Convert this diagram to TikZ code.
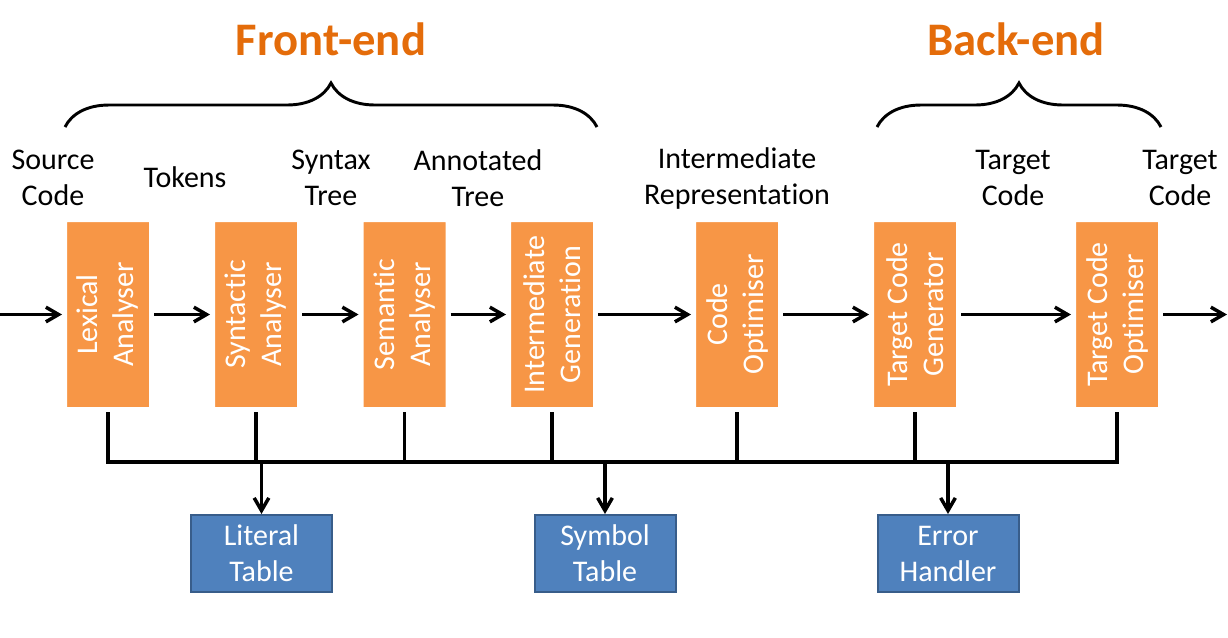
\documentclass[tikz,border=0pt]{standalone}
\usepackage{fontspec}
\setmainfont{Carlito}[Ligatures=NoCommon]
\usetikzlibrary{arrows.meta,shadows,decorations.pathreplacing}
\definecolor{phaseorange}{HTML}{F79646}
\definecolor{titleorange}{HTML}{E46C0A}
\definecolor{storeblue}{HTML}{4F81BD}
\definecolor{storeedge}{HTML}{385D8A}
\tikzset{
    phase/.style={rotate=90, fill=phaseorange, draw=white, line width=3.75pt,
        rounded corners=1.5pt, minimum width=142.5pt, minimum height=65.25pt,
        inner sep=0pt, align=center, text=white,
        font=\fontsize{22.5}{27}\selectfont,
        drop shadow={shadow xshift=0.8pt, shadow yshift=-0.8pt, opacity=0.3, fill=black}},
    store/.style={fill=storeblue, draw=storeedge, line width=1.5pt,
        minimum width=105.75pt, minimum height=57.75pt, inner sep=0pt,
        align=center, text=white, font=\fontsize{22.5}{27}\selectfont},
    lbl/.style={align=center, inner sep=0pt, font=\fontsize{22.5}{27}\selectfont},
    stage/.style={text=titleorange, inner sep=0pt, font=\fontsize{35}{40}\selectfont\bfseries},
    arr/.style={line width=2.6pt, -{Straight Barb[length=9.5pt, width=11pt]}},
    bus/.style={line width=2.6pt},
    curly/.style={line width=2.2pt, decorate, decoration={brace, amplitude=33pt}}
}
\begin{document}
\begin{tikzpicture}[x=0.75pt, y=-0.75pt]
    \useasboundingbox (0,0) rectangle (1228,637);

    % Titles and braces
    \node[stage, anchor=base] (front) at (331, 55) {Front-end};
    \node[stage, anchor=base] (back) at (1016, 55) {Back-end};
    \draw[curly] (65,127) -- (597,127);
    \draw[curly] (877,127) -- (1161,127);

    % Labels between the phases
    \node[lbl] (src) at (53, 178) {Source\\Code};
    \node[lbl] (tok) at (185, 177) {Tokens};
    \node[lbl] (stree) at (331, 178) {Syntax\\Tree};
    \node[lbl] (atree) at (478, 178) {Annotated\\Tree};
    \node[lbl] (irep) at (737, 178) {Intermediate\\Representation};
    \node[lbl] (tc1) at (1013, 178) {Target\\Code};
    \node[lbl] (tc2) at (1180, 178) {Target\\Code};

    % Phases
    \node[phase] (lex) at (108, 314.5) {Lexical\\Analyser};
    \node[phase] (syn) at (256, 314.5) {Syntactic\\Analyser};
    \node[phase] (sem) at (404.5, 314.5) {Semantic\\Analyser};
    \node[phase] (igen) at (552, 314.5) {Intermediate\\Generation};
    \node[phase] (copt) at (737, 314.5) {Code\\Optimiser};
    \node[phase] (tcg) at (915, 314.5) {Target Code\\Generator};
    \node[phase] (tco) at (1117, 314.5) {Target Code\\Optimiser};

    % Tables
    \node[store] (lit) at (261.5, 553.5) {Literal\\Table};
    \node[store] (sym) at (605, 553.5) {Symbol\\Table};
    \node[store] (err) at (948, 553.5) {Error\\Handler};

    % Main flow
    \coordinate (in) at (0, 314.5);
    \coordinate (out) at (1227, 314.5);
    \draw[arr] (in) -- (lex);
    \draw[arr] (lex) -- (syn);
    \draw[arr] (syn) -- (sem);
    \draw[arr] (sem) -- (igen);
    \draw[arr] (igen) -- (copt);
    \draw[arr] (copt) -- (tcg);
    \draw[arr] (tcg) -- (tco);
    \draw[arr] (tco) -- (out);

    % Shared bus
    \coordinate (busy) at (0, 462);
    \draw[bus] (lex.west) -- (lex.west |- busy) -- (tco.west |- busy) -- (tco.west);
    \draw[bus] (syn.west) -- (syn.west |- busy);
    \draw[bus] (sem.west) -- (sem.west |- busy);
    \draw[bus] (igen.west) -- (igen.west |- busy);
    \draw[bus] (copt.west) -- (copt.west |- busy);
    \draw[bus] (tcg.west) -- (tcg.west |- busy);
    \draw[arr] (lit.north |- busy) -- (lit.north);
    \draw[arr] (sym.north |- busy) -- (sym.north);
    \draw[arr] (err.north |- busy) -- (err.north);
\end{tikzpicture}
\end{document}
